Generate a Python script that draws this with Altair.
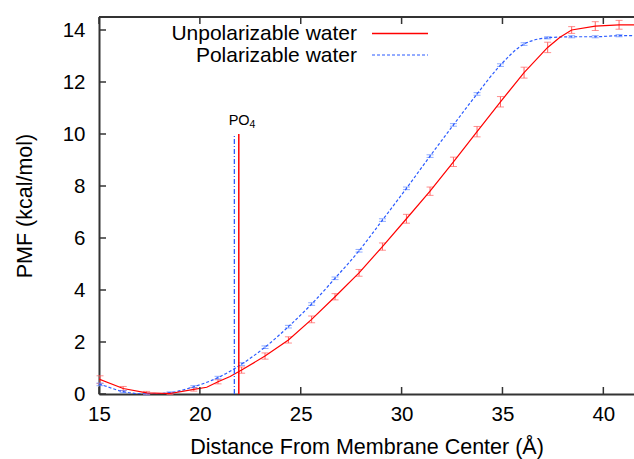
import altair as alt
import pandas as pd

# ---- data ----
dist = [15.05, 16.2, 17.36, 18.52, 19.7, 20.9, 22.07, 23.23, 24.39, 25.54, 26.7, 27.89,
        29.05, 30.24, 31.41, 32.57, 33.74, 34.9, 36.07, 37.24, 38.43, 39.6, 40.78]
pmf_unpol = [0.55, 0.21, 0.04, 0.02, 0.18, 0.47, 0.92, 1.46, 2.08, 2.87, 3.74, 4.66,
             5.67, 6.74, 7.8, 8.93, 10.09, 11.24, 12.36, 13.33, 14.0, 14.15, 14.2]
err_unpol = [0.15, 0.08, 0.06, 0.04, 0.07, 0.08, 0.12, 0.12, 0.12, 0.13, 0.12, 0.13,
             0.14, 0.17, 0.16, 0.18, 0.2, 0.2, 0.21, 0.2, 0.13, 0.17, 0.17]
pmf_pol = [0.37, 0.09, 0.0, 0.05, 0.28, 0.63, 1.15, 1.8, 2.59, 3.46, 4.45, 5.51,
           6.69, 7.91, 9.15, 10.35, 11.54, 12.65, 13.46, 13.7, 13.74, 13.74, 13.78]
err_pol = [0.05, 0.04, 0.03, 0.03, 0.04, 0.05, 0.05, 0.05, 0.05, 0.05, 0.05, 0.05,
           0.05, 0.05, 0.05, 0.05, 0.05, 0.05, 0.05, 0.04, 0.04, 0.04, 0.04]

line_dist_unpol = [15.0, 16.2, 17.36, 18.52, 19.7, 20.34, 20.9, 21.5, 22.07, 23.23, 24.39,
                   25.54, 26.7, 27.89, 29.05, 30.24, 31.41, 32.57, 33.74, 34.9, 36.07,
                   37.24, 37.85, 38.43, 39.6, 40.78, 41.6]
line_pmf_unpol = [0.57, 0.21, 0.04, 0.02, 0.18, 0.26, 0.47, 0.67, 0.92, 1.46, 2.08,
                  2.87, 3.74, 4.66, 5.67, 6.74, 7.8, 8.93, 10.09, 11.24, 12.36,
                  13.33, 13.72, 14.0, 14.15, 14.2, 14.2]
line_dist_pol = [15.0] + dist + [41.6]
line_pmf_pol = [0.38] + pmf_pol + [13.78]

po4_series = ["Polarizable water", "Unpolarizable water"]
po4_dist = [21.71, 21.93]
po4_height = [10, 10]

series = ["Unpolarizable water", "Polarizable water"]
colors = ["#ff0000", "#2b5bff"]
bar_colors = ["#ff6060", "#6088ff"]

x_ticks = [15, 20, 25, 30, 35, 40]
y_ticks = [0, 2, 4, 6, 8, 10, 12, 14]

W, H = 535, 377
FONT = "Liberation Sans"
AX = "#333333"

xs = alt.Scale(domain=[15, 41.52], nice=False, zero=False)
ys = alt.Scale(domain=[0, 14.5], nice=False, zero=False)
xaxis = alt.Axis(values=x_ticks, title="Distance From Membrane Center (Å)", ticks=False,
                 grid=False, domainColor=AX, domainWidth=2, labelPadding=10,
                 titlePadding=12, labelFlush=False)
yaxis = alt.Axis(values=y_ticks, title="PMF (kcal/mol)", ticks=False, grid=False,
                 domainColor=AX, domainWidth=2, labelPadding=14, titlePadding=26,
                 labelFlush=False)


def X(f):
    return alt.X(f, type="quantitative", scale=xs, axis=xaxis)


def Y(f):
    return alt.Y(f, type="quantitative", scale=ys, axis=yaxis)


pts = pd.DataFrame({
    "x": dist * 2,
    "y": pmf_unpol + pmf_pol,
    "lo": [v - e for v, e in zip(pmf_unpol, err_unpol)] + [v - e for v, e in zip(pmf_pol, err_pol)],
    "hi": [v + e for v, e in zip(pmf_unpol, err_unpol)] + [v + e for v, e in zip(pmf_pol, err_pol)],
    "s": [series[0]] * len(dist) + [series[1]] * len(dist),
})

layers = []
for i, s in enumerate(series):
    d = pts[pts.s == s]
    col = bar_colors[i]
    layers.append(alt.Chart(d).mark_rule(strokeWidth=1, stroke=col).encode(
        x=X("x"), y=Y("lo"), y2="hi"))
    layers.append(alt.Chart(d).mark_tick(orient="horizontal", size=7, thickness=1, color=col).encode(
        x=X("x"), y=Y("lo")))
    layers.append(alt.Chart(d).mark_tick(orient="horizontal", size=7, thickness=1, color=col).encode(
        x=X("x"), y=Y("hi")))

red_line = pd.DataFrame({"x": line_dist_unpol, "y": line_pmf_unpol})
blue_line = pd.DataFrame({"x": line_dist_pol, "y": line_pmf_pol})
layers.append(alt.Chart(blue_line).mark_line(strokeWidth=1.2, strokeDash=[3, 2], stroke=colors[1],
                                             interpolate="monotone", clip=True).encode(
    x=X("x"), y=Y("y")))
layers.append(alt.Chart(red_line).mark_line(strokeWidth=1.2, stroke=colors[0], clip=True).encode(
    x=X("x"), y=Y("y")))

# PO4 markers
po4 = pd.DataFrame({"x": po4_dist, "y0": [0, 0], "y": po4_height, "s": po4_series})
layers.append(alt.Chart(po4[po4.s == series[1]]).mark_rule(strokeWidth=1.3, strokeDash=[5, 2, 1, 2],
                                                            stroke=colors[1]).encode(
    x=X("x"), y=Y("y0"), y2="y"))
layers.append(alt.Chart(po4[po4.s == series[0]]).mark_rule(strokeWidth=1.5, stroke=colors[0]).encode(
    x=X("x"), y=Y("y0"), y2="y"))
lab = pd.DataFrame({"x": [sum(po4_dist) / 2], "y": [max(po4_height)], "t1": ["PO"], "t2": ["4"]})
layers.append(alt.Chart(lab).mark_text(font=FONT, fontSize=14.5, align="right", baseline="alphabetic",
                                       dx=13, dy=-9, color="black").encode(x=X("x"), y=Y("y"), text="t1:N"))
layers.append(alt.Chart(lab).mark_text(font=FONT, fontSize=10.5, align="left", baseline="alphabetic",
                                       dx=13, dy=-6, color="black").encode(x=X("x"), y=Y("y"), text="t2:N"))

# inward ticks and top frame
layers.append(alt.Chart(pd.DataFrame({"y": y_ticks})).mark_rule(strokeWidth=1.5, stroke=AX).encode(
    y=Y("y"), x=alt.value(0), x2=alt.value(7)))
layers.append(alt.Chart(pd.DataFrame({"x": x_ticks})).mark_rule(strokeWidth=1.5, stroke=AX).encode(
    x=X("x"), y=alt.value(H), y2=alt.value(H - 7)))
layers.append(alt.Chart(pd.DataFrame({"x": x_ticks})).mark_rule(strokeWidth=1.5, stroke=AX).encode(
    x=X("x"), y=alt.value(0), y2=alt.value(7)))
layers.append(alt.Chart(pd.DataFrame({"x": [15]})).mark_rule(strokeWidth=2, stroke=AX).encode(
    x=alt.value(0), x2=alt.value(W), y=alt.value(0)))

# legend (top-left, text right-aligned with sample line to its right)
leg = pd.DataFrame({"t": series, "row": [0, 1]})
for i, s in enumerate(series):
    ld = leg[leg.row == i]
    yy = 17 + 21.5 * i
    layers.append(alt.Chart(ld).mark_text(font=FONT, fontSize=21, align="right", baseline="middle",
                                          color="black").encode(
        text="t:N", x=alt.value(258), y=alt.value(yy)))
for i, s in enumerate(series):
    ld = leg[leg.row == i]
    yy = 17 + 21.5 * i
    lk = dict(strokeWidth=1.5, stroke=colors[i])
    if i == 1:
        lk["strokeDash"] = [3, 2]
        lk["strokeWidth"] = 1.2
    layers.append(alt.Chart(ld).mark_rule(**lk).encode(
        x=alt.value(273), x2=alt.value(329), y=alt.value(yy - 0.5)))

chart = alt.layer(*layers).properties(
    width=W, height=H,
    autosize=alt.AutoSizeParams(type="none"),
    padding={"left": 99, "top": 17, "right": 0, "bottom": 65},
).configure_view(stroke=None).configure_axis(
    labelFont=FONT, titleFont=FONT, labelFontSize=20.5, titleFontSize=21.5,
    titleFontWeight="normal", labelColor="black", titleColor="black",
)

chart.save("out.html", embed_options={"renderer": "svg", "actions": False})
